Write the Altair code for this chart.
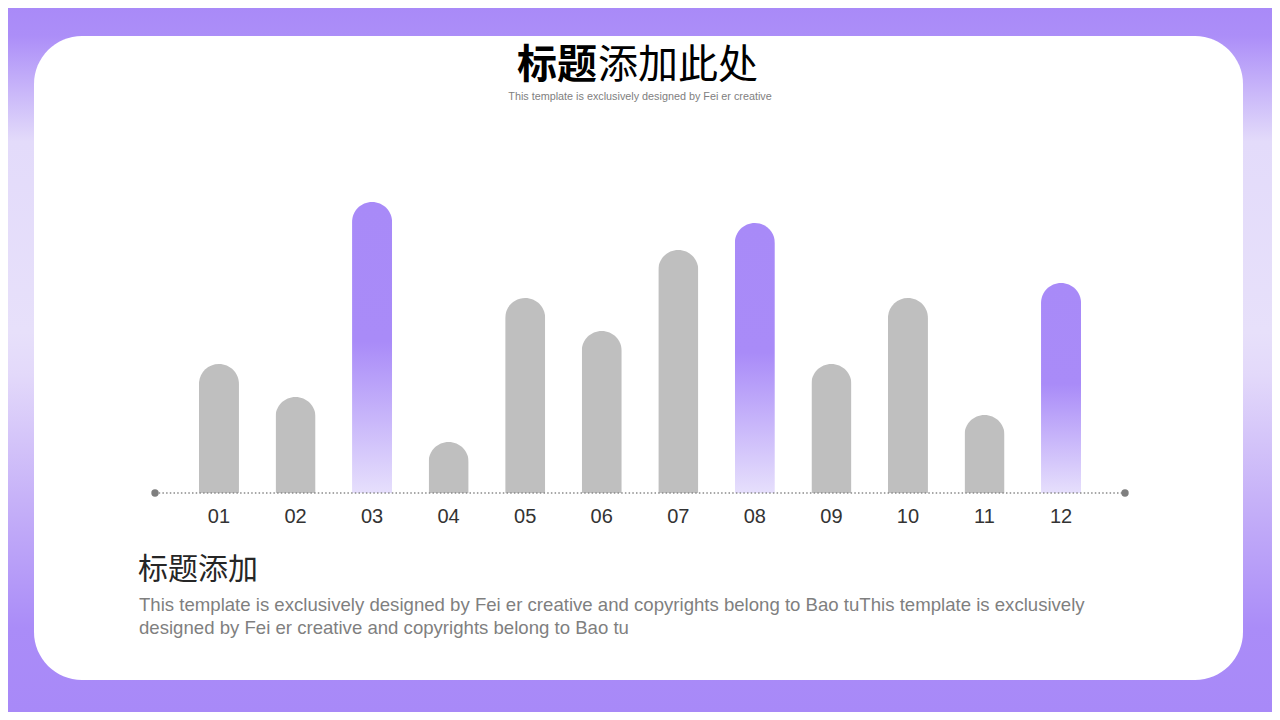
import altair as alt
import pandas as pd

# ---- data ----
categories = ["01", "02", "03", "04", "05", "06", "07", "08", "09", "10", "11", "12"]
values = [43, 32, 97, 17, 65, 54, 81, 90, 43, 65, 26, 70]
highlighted = ["03", "08", "12"]

title_bold = "标题"
title_rest = "添加此处"
subtitle = "This template is exclusively designed by Fei er creative"
section_title = "标题添加"
body_lines = [
    "This template is exclusively designed by Fei er creative and copyrights belong to Bao tuThis template is exclusively",
    "designed by Fei er creative and copyrights belong to Bao tu",
]

df = pd.DataFrame({
    "cat": categories,
    "value": values,
    "hl": [c in highlighted for c in categories],
})

W, H = 1264, 704
CJK = "Noto Sans CJK SC"
LAT = "Liberation Sans"

one = alt.Data(values=[{"a": 1}])

def grad(stops):
    return alt.LinearGradient(
        gradient="linear",
        stops=[alt.GradientStop(offset=o, color=c) for o, c in stops],
        x1=0, x2=0, y1=0, y2=1,
    )

bg = alt.Chart(one).mark_rect(
    fill=grad([(0.0, "#A98AF8"), (0.04, "#AC8EF8"), (0.19, "#E3DBFA"), (0.46, "#E7E0FA"),
               (0.52, "#E3D9FA"), (0.70, "#C6B1F8"), (0.88, "#AA8CF8"), (1.0, "#A889F8")]),
).encode(x=alt.value(0), x2=alt.value(W), y=alt.value(0), y2=alt.value(H))

card = alt.Chart(one).mark_rect(fill="#FFFFFF", cornerRadius=48).encode(
    x=alt.value(26), x2=alt.value(1235), y=alt.value(28), y2=alt.value(672)
)

xscale = alt.Scale(domain=categories, range=[147, 1117], paddingInner=0.477, paddingOuter=0.574)
yscale = alt.Scale(domain=[0, 100], range=[485, 185])

X = alt.X("cat:N", scale=xscale, axis=None)
Y = alt.Y("value:Q", scale=yscale, axis=None)

base = alt.Chart(df)

grey_bars = base.transform_filter("!datum.hl").mark_bar(
    color="#BFBFBF", cornerRadiusTopLeft=20, cornerRadiusTopRight=20
).encode(x=X, y=Y)

hl_bars = base.transform_filter("datum.hl").mark_bar(
    fill=grad([(0.0, "#A88AF8"), (0.48, "#A98BF8"), (1.0, "#E6DFFC")]),
    cornerRadiusTopLeft=20, cornerRadiusTopRight=20,
).encode(x=X, y=Y)

baseline = alt.Chart(one).mark_rule(
    color="#8A8A8A", strokeWidth=1.5, strokeDash=[1.5, 2.2]
).encode(x=alt.value(147), x2=alt.value(1117), y=alt.value(485))

end_left = alt.Chart(one).mark_circle(color="#7F7F7F", opacity=1, size=55).encode(
    x=alt.value(147), y=alt.value(485)
)
end_right = alt.Chart(one).mark_circle(color="#7F7F7F", opacity=1, size=55).encode(
    x=alt.value(1117), y=alt.value(485)
)

labels = base.mark_text(
    font=LAT, fontSize=20, color="#333333", baseline="middle"
).encode(x=X, y=alt.value(509), text="cat:N")

t1 = alt.Chart(one).mark_text(
    font=CJK, fontSize=40, fontWeight="bold", color="#000000", align="right", baseline="middle"
).encode(x=alt.value(589), y=alt.value(58), text=alt.value(title_bold))

t2 = alt.Chart(one).mark_text(
    font=CJK, fontSize=40, color="#000000", align="left", baseline="middle"
).encode(x=alt.value(590), y=alt.value(58), text=alt.value(title_rest))

sub = alt.Chart(one).mark_text(
    font=LAT, fontSize=10.8, color="#808080", align="center", baseline="middle"
).encode(x=alt.value(632), y=alt.value(89), text=alt.value(subtitle))

sec = alt.Chart(one).mark_text(
    font=CJK, fontSize=30, color="#262626", align="left", baseline="middle"
).encode(x=alt.value(130), y=alt.value(562), text=alt.value(section_title))

body = alt.Chart(one).mark_text(
    font=LAT, fontSize=18.6, color="#7F7F7F", align="left", baseline="middle", lineHeight=23
).encode(x=alt.value(131), y=alt.value(597), text=alt.value(body_lines))

chart = alt.layer(
    bg, card, grey_bars, hl_bars, baseline, end_left, end_right, labels, t1, t2, sub, sec, body
).properties(width=W, height=H, padding=0).configure_view(stroke=None)

chart.save("out.html", embed_options={"renderer": "svg", "actions": False})
